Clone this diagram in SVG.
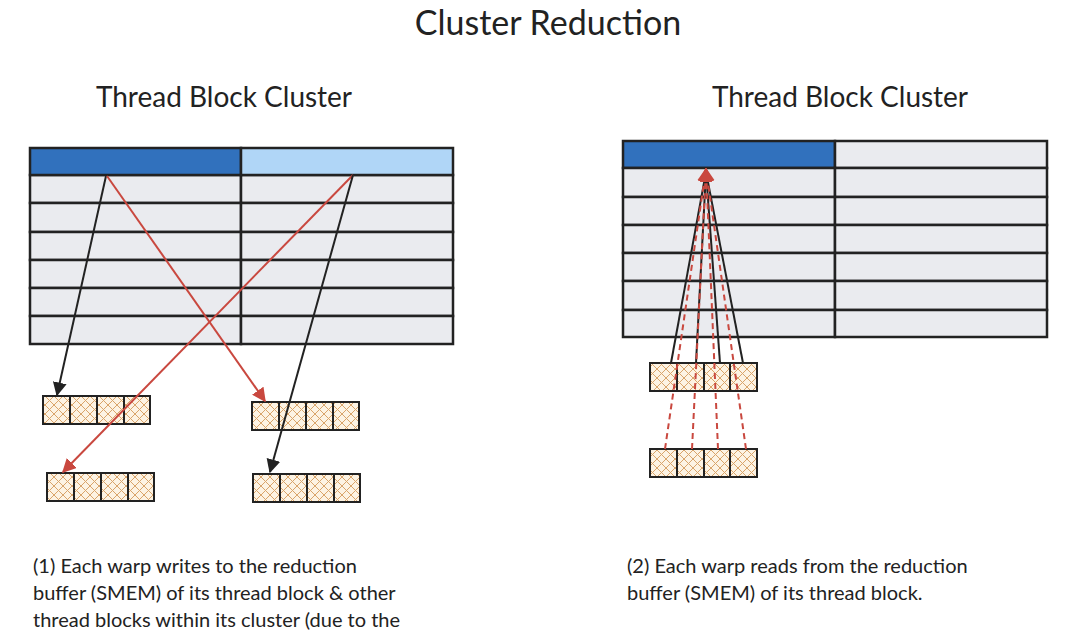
<svg xmlns="http://www.w3.org/2000/svg" width="1080" height="632" viewBox="0 0 1080 632">
<style>
.t{font-family:Lato,"Open Sans",sans-serif;fill:#222}
.row{fill:#eaebef;stroke:#222;stroke-width:2.5}
.cell{fill:url(#hatch);stroke:#222;stroke-width:2}
.bk{stroke:#222;stroke-width:2;fill:none}
.rd{stroke:#c9483f;stroke-width:2;fill:none}
</style>
<defs>
<pattern id="hatch" width="9" height="9" patternUnits="userSpaceOnUse">
<rect width="9" height="9" fill="#fdf3e3"/>
<path d="M0 0L9 9M9 0L0 9" stroke="#d9a46a" stroke-width="1"/>
</pattern>
<marker id="ab" viewBox="0 0 10 10" refX="9" refY="5" markerWidth="7" markerHeight="7" orient="auto"><path d="M0 0L10 5L0 10z" fill="#222"/></marker>
<marker id="ar" viewBox="0 0 10 10" refX="9" refY="5" markerWidth="7" markerHeight="7" orient="auto"><path d="M0 0L10 5L0 10z" fill="#c9483f"/></marker>
</defs>
<rect width="1080" height="632" fill="#fff"/>
<text class="t" x="548" y="35" font-size="34" text-anchor="middle">Cluster Reduction</text>
<text class="t" x="224" y="107" font-size="28" text-anchor="middle">Thread Block Cluster</text>
<text class="t" x="840" y="107" font-size="28" text-anchor="middle">Thread Block Cluster</text>

<g id="left-table">
<rect class="row" x="30" y="175" width="211" height="28"/><rect class="row" x="241" y="175" width="212" height="28"/>
<rect class="row" x="30" y="203" width="211" height="29"/><rect class="row" x="241" y="203" width="212" height="29"/>
<rect class="row" x="30" y="232" width="211" height="28"/><rect class="row" x="241" y="232" width="212" height="28"/>
<rect class="row" x="30" y="260" width="211" height="28"/><rect class="row" x="241" y="260" width="212" height="28"/>
<rect class="row" x="30" y="288" width="211" height="28"/><rect class="row" x="241" y="288" width="212" height="28"/>
<rect class="row" x="30" y="316" width="211" height="28"/><rect class="row" x="241" y="316" width="212" height="28"/>
<rect x="30" y="148" width="211" height="27" fill="#3171bd" stroke="#222" stroke-width="2.5"/>
<rect x="241" y="148" width="212" height="27" fill="#b0d6f7" stroke="#222" stroke-width="2.5"/>
</g>
<g id="right-table">
<rect class="row" x="623" y="141" width="212" height="27" fill="#3171bd" style="fill:#3171bd"/><rect class="row" x="835" y="141" width="212" height="27"/>
<rect class="row" x="623" y="168" width="212" height="29"/><rect class="row" x="835" y="168" width="212" height="29"/>
<rect class="row" x="623" y="197" width="212" height="28"/><rect class="row" x="835" y="197" width="212" height="28"/>
<rect class="row" x="623" y="225" width="212" height="28"/><rect class="row" x="835" y="225" width="212" height="28"/>
<rect class="row" x="623" y="253" width="212" height="28"/><rect class="row" x="835" y="253" width="212" height="28"/>
<rect class="row" x="623" y="281" width="212" height="29"/><rect class="row" x="835" y="281" width="212" height="29"/>
<rect class="row" x="623" y="310" width="212" height="27"/><rect class="row" x="835" y="310" width="212" height="27"/>
</g>

<g id="buf-l1"><rect class="cell" x="43" y="396" width="27" height="28"/><rect class="cell" x="70" y="396" width="27" height="28"/><rect class="cell" x="97" y="396" width="27" height="28"/><rect class="cell" x="124" y="396" width="26" height="28"/></g>
<g id="buf-l2"><rect class="cell" x="252" y="402" width="27" height="28"/><rect class="cell" x="279" y="402" width="27" height="28"/><rect class="cell" x="306" y="402" width="27" height="28"/><rect class="cell" x="333" y="402" width="26" height="28"/></g>
<g id="buf-l3"><rect class="cell" x="47" y="473" width="27" height="28"/><rect class="cell" x="74" y="473" width="27" height="28"/><rect class="cell" x="101" y="473" width="27" height="28"/><rect class="cell" x="128" y="473" width="26" height="28"/></g>
<g id="buf-l4"><rect class="cell" x="253" y="474" width="27" height="28"/><rect class="cell" x="280" y="474" width="27" height="28"/><rect class="cell" x="307" y="474" width="27" height="28"/><rect class="cell" x="334" y="474" width="26" height="28"/></g>
<g id="buf-r1"><rect class="cell" x="650" y="363" width="27" height="28"/><rect class="cell" x="677" y="363" width="27" height="28"/><rect class="cell" x="704" y="363" width="26" height="28"/><rect class="cell" x="730" y="363" width="27" height="28"/></g>
<g id="buf-r2"><rect class="cell" x="650" y="449" width="27" height="28"/><rect class="cell" x="677" y="449" width="27" height="28"/><rect class="cell" x="704" y="449" width="26" height="28"/><rect class="cell" x="730" y="449" width="27" height="28"/></g>

<g id="connectors">
<line class="bk" x1="106" y1="176" x2="57" y2="395" marker-end="url(#ab)"/>
<line class="rd" x1="107" y1="176" x2="265" y2="401" marker-end="url(#ar)"/>
<line class="rd" x1="353" y1="175" x2="63" y2="472" marker-end="url(#ar)"/>
<line class="bk" x1="353" y1="175" x2="270" y2="472" marker-end="url(#ab)"/>
<line class="bk" x1="671" y1="363" x2="706" y2="172"/>
<line class="bk" x1="696" y1="363" x2="706" y2="172"/>
<line class="bk" x1="720" y1="363" x2="706" y2="172"/>
<line class="bk" x1="743" y1="363" x2="706" y2="172"/>
<g stroke-dasharray="6 4">
<line class="rd" x1="665" y1="449" x2="706" y2="169" marker-end="url(#ar)"/>
<line class="rd" x1="692" y1="449" x2="706" y2="169" marker-end="url(#ar)"/>
<line class="rd" x1="718" y1="449" x2="706" y2="169" marker-end="url(#ar)"/>
<line class="rd" x1="746" y1="449" x2="706" y2="169" marker-end="url(#ar)"/>
</g>
</g>

<g class="t" font-size="20">
<text x="33" y="573">(1) Each warp writes to the reduction</text>
<text x="33" y="600">buffer (SMEM) of  its thread block &amp; other</text>
<text x="33" y="627">thread blocks within its cluster (due to the</text>
<text x="627" y="573">(2) Each warp reads from the reduction</text>
<text x="627" y="600">buffer (SMEM) of  its thread block.</text>
</g>
</svg>
